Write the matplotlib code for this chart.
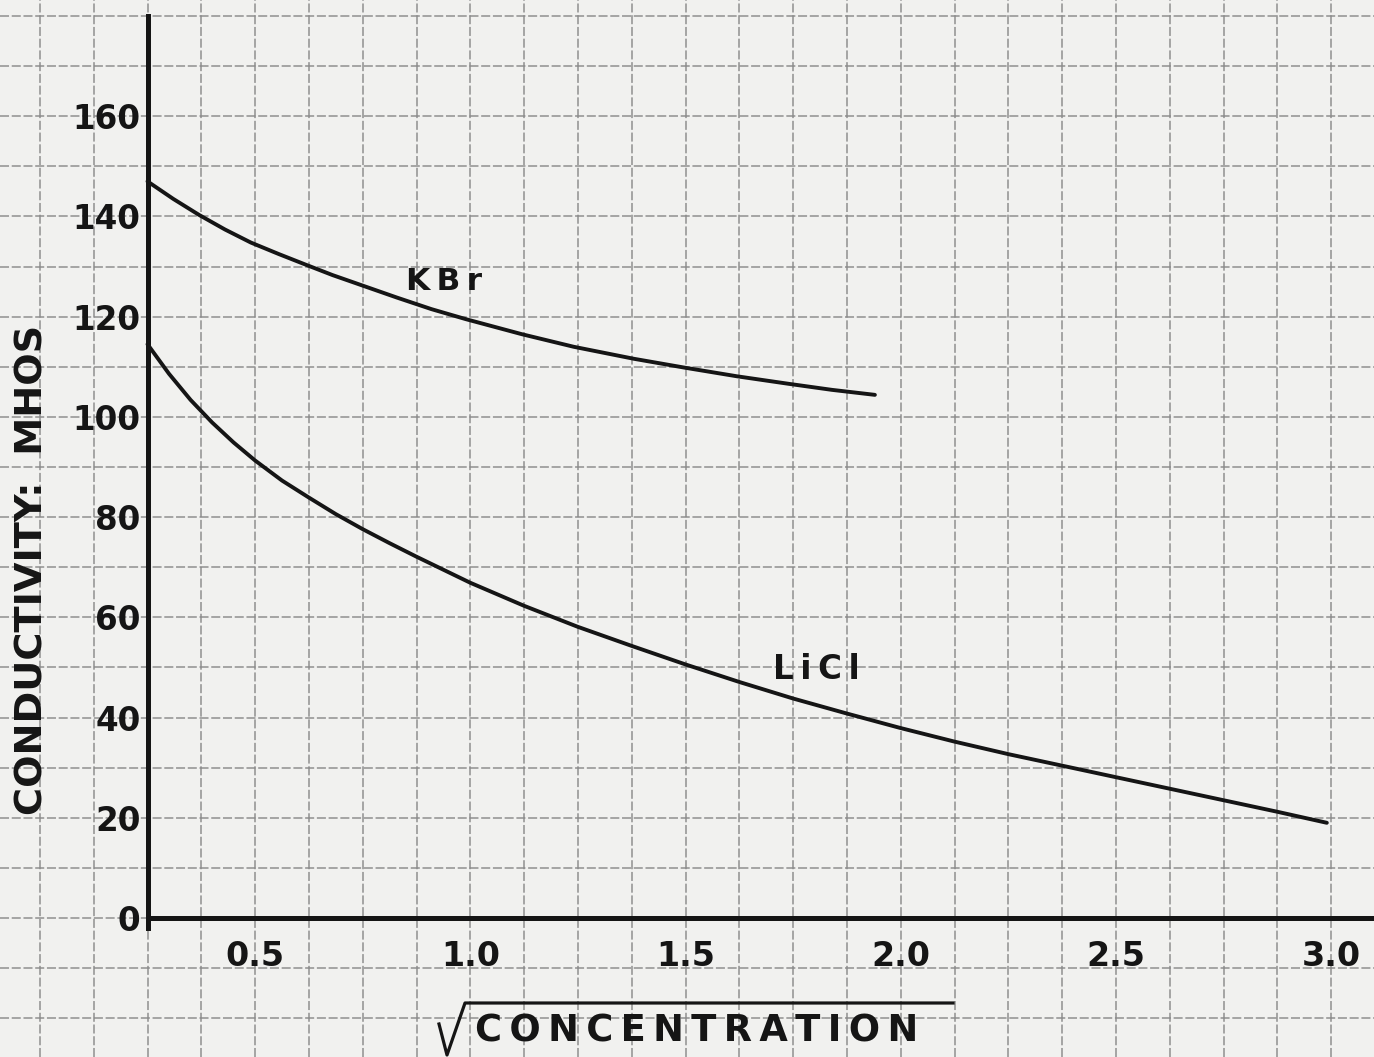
import matplotlib
matplotlib.use('Agg')
import matplotlib.pyplot as plt
from matplotlib.ticker import MultipleLocator

# values
kbr_x = [0.25, 0.31, 0.37, 0.43, 0.49, 0.555, 0.62, 0.68, 0.74, 0.83, 0.91, 0.99,
         1.12, 1.24, 1.38, 1.50, 1.62, 1.74, 1.84, 1.94]
kbr_y = [147.0, 143.5, 140.3, 137.4, 134.8, 132.5, 130.3, 128.3, 126.5, 123.8, 121.5, 119.5,
         116.5, 114.0, 111.6, 109.8, 108.1, 106.6, 105.4, 104.4]

licl_x = [0.25, 0.30, 0.35, 0.40, 0.45, 0.50, 0.5625, 0.625, 0.6875, 0.75, 0.8125, 0.875,
          0.9375, 1.0, 1.125, 1.25, 1.375, 1.5, 1.625, 1.75, 1.875, 2.0, 2.125, 2.25,
          2.375, 2.5, 2.625, 2.75, 2.875, 2.99]
licl_y = [114.5, 108.6, 103.4, 98.9, 94.9, 91.3, 87.3, 83.9, 80.6, 77.6, 74.8, 72.1,
          69.5, 66.9, 62.3, 58.1, 54.3, 50.6, 47.1, 43.8, 40.8, 37.9, 35.2, 32.7,
          30.4, 28.1, 25.8, 23.5, 21.2, 19.0]

x_ticks = [0.5, 1.0, 1.5, 2.0, 2.5, 3.0]
x_tick_labels = ['0.5', '1.0', '1.5', '2.0', '2.5', '3.0']
y_ticks = [0, 20, 40, 60, 80, 100, 120, 140, 160]
y_tick_labels = [str(v) for v in y_ticks]

paper = '#f1f1ef'
ink = '#151515'
W, H = 1374, 1057

fig = plt.figure(figsize=(W / 100, H / 100), dpi=100)
fig.patch.set_facecolor(paper)
ax = fig.add_axes([0, 0, 1, 1])
ax.set_facecolor(paper)
ax.set_xlim(-0.0927, 3.0996)
ax.set_ylim(-27.74, 183.2)

for s in ('top', 'right'):
    ax.spines[s].set_visible(False)
ax.spines['left'].set_position(('data', 0.25))
ax.spines['bottom'].set_position(('data', 0))
ax.spines['left'].set_bounds(-2, 180)
ax.spines['bottom'].set_bounds(0.25, 3.0996)
for s in ('left', 'bottom'):
    ax.spines[s].set_linewidth(3.6)
    ax.spines[s].set_color(ink)
    ax.spines[s].set_zorder(5)

ax.set_xticks(x_ticks, x_tick_labels)
ax.set_yticks(y_ticks, y_tick_labels)
ax.xaxis.set_minor_locator(MultipleLocator(0.125))
ax.yaxis.set_minor_locator(MultipleLocator(10))
ax.tick_params(which='both', length=0)
ax.tick_params(axis='x', pad=16, labelsize=24, labelcolor=ink)
ax.tick_params(axis='y', pad=5, labelsize=23.5, labelcolor=ink)
for lab in ax.get_xticklabels() + ax.get_yticklabels():
    lab.set_fontweight('bold')

# graph paper
ax.set_axisbelow(True)
ax.grid(which='both', color='#8a8a8a', linewidth=1.3, linestyle=(0, (5, 1.5)), alpha=0.8)

ax.plot(kbr_x, kbr_y, color=ink, linewidth=2.8, solid_capstyle='round',
        solid_joinstyle='round', zorder=4)
ax.plot(licl_x, licl_y, color=ink, linewidth=2.8, solid_capstyle='round',
        solid_joinstyle='round', zorder=4)

ts = '\u2009'
ax.text(0.939, 125.3, ts.join('KBr'), fontsize=22.5, fontweight='bold', color=ink,
        ha='center', va='baseline')
ax.text(1.803, 47.7, ts.join('LiCl'), fontsize=23.5, fontweight='bold', color=ink,
        ha='center', va='baseline')

# axis titles
ax.text(43 / W, 1 - 570 / H, 'CONDUCTIVITY:  MHOS', transform=ax.transAxes,
        rotation=90, rotation_mode='anchor', ha='center', va='baseline',
        fontsize=27.5, fontweight='bold', color=ink)
ax.text(697 / W, 1 - 1042 / H, ts.join('CONCENTRATION'), transform=ax.transAxes,
        ha='center', va='baseline', fontsize=26.5, fontweight='bold', color=ink)
rx = [439, 447, 465, 953]
ry = [1024, 1055, 1003, 1003]
ax.plot([p / W for p in rx], [1 - p / H for p in ry], transform=ax.transAxes,
        color=ink, linewidth=2.3, clip_on=False)

fig.savefig('out.png', dpi=100, facecolor=paper)
